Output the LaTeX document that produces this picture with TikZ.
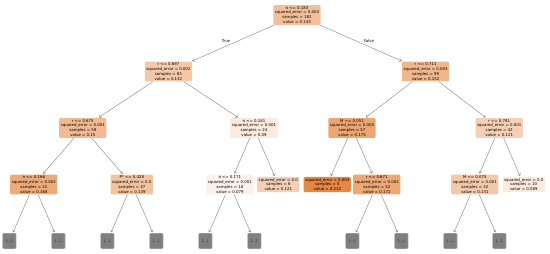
\documentclass[tikz,border=0pt]{standalone}
\usepackage{fontspec}
\newfontfamily\dvs{DejaVu Sans}
\usetikzlibrary{arrows.meta}
\definecolor{sko}{RGB}{229,129,57}
\definecolor{leafgray}{RGB}{128,128,128}
\begin{document}
\begin{tikzpicture}[x=1pt,y=-1pt,
  tn/.style={rectangle, rounded corners=1.2pt, align=center, inner xsep=1.6pt, inner ysep=1.1pt,
    font=\dvs\fontsize{3.9}{4.9}\selectfont, text=black},
  lf/.style={rectangle, rounded corners=1pt, fill=leafgray, draw=black!25, line width=0.4pt,
    minimum width=13.5pt, minimum height=15.5pt, inner sep=0pt,
    font=\dvs\fontsize{3.9}{4.9}\selectfont, text=black!85},
  ed/.style={draw=black!50, line width=0.4pt, -{Straight Barb[length=2pt,width=3pt]}, shorten >=0.8pt},
  lab/.style={font=\dvs\fontsize{3.9}{4.9}\selectfont, text=black}
]
\useasboundingbox (0,0) rectangle (550,254);
\fill[white] (0,0) rectangle (550,254);

% level 0
\node[tn, fill=sko!51!white] (r) at (297,15) {π <= 0.183\\squared\_error = 0.003\\samples = 182\\value = 0.143};
% level 1
\node[tn, fill=sko!44!white] (a) at (168.4,71.5) {r <= 0.697\\squared\_error = 0.002\\samples = 83\\value = 0.132};
\node[tn, fill=sko!57!white] (b) at (425.6,71.5) {r <= 0.711\\squared\_error = 0.003\\samples = 99\\value = 0.152};
% level 2
\node[tn, fill=sko!55!white] (c) at (82.8,128) {r <= 0.675\\squared\_error = 0.001\\samples = 59\\value = 0.15};
\node[tn, fill=sko!17!white] (d) at (254,128) {π <= 0.181\\squared\_error = 0.001\\samples = 24\\value = 0.09};
\node[tn, fill=sko!71!white] (e) at (352,128) {M <= 0.051\\squared\_error = 0.003\\samples = 57\\value = 0.175};
\node[tn, fill=sko!37!white] (f) at (499.2,128) {r <= 0.781\\squared\_error = 0.001\\samples = 42\\value = 0.121};
% level 3
\node[tn, fill=sko!67!white] (g) at (33.8,184.5) {π <= 0.166\\squared\_error = 0.002\\samples = 22\\value = 0.168};
\node[tn, fill=sko!48!white] (h) at (131.8,184.5) {P* <= 0.428\\squared\_error = 0.0\\samples = 37\\value = 0.139};
\node[tn, fill=sko!10!white] (i) at (229.8,184.5) {π <= 0.171\\squared\_error = 0.001\\samples = 18\\value = 0.079};
\node[tn, fill=sko!37!white] (j) at (278.3,184.5) {squared\_error = 0.0\\samples = 6\\value = 0.121};
\node[tn, fill=sko!95!white] (k) at (327.3,184.5) {squared\_error = 0.004\\samples = 5\\value = 0.212};
\node[tn, fill=sko!69!white] (l) at (376.8,184.5) {r <= 0.671\\squared\_error = 0.002\\samples = 52\\value = 0.172};
\node[tn, fill=sko!43!white] (m) at (474.8,184.5) {M <= 0.075\\squared\_error = 0.001\\samples = 32\\value = 0.131};
\node[tn, fill=sko!16!white] (n) at (523.7,184.5) {squared\_error = 0.0\\samples = 10\\value = 0.089};
% truncated leaves
\node[lf] (g1) at (9.3,241) {(...)};
\node[lf] (g2) at (58.3,241) {(...)};
\node[lf] (h1) at (107.3,241) {(...)};
\node[lf] (h2) at (156.3,241) {(...)};
\node[lf] (i1) at (205.3,241) {(...)};
\node[lf] (i2) at (254.3,241) {(...)};
\node[lf] (l1) at (352.3,241) {(...)};
\node[lf] (l2) at (401.3,241) {(...)};
\node[lf] (m1) at (450.3,241) {(...)};
\node[lf] (m2) at (499.3,241) {(...)};

% edges
\foreach \p/\q in {r/a, r/b, a/c, a/d, b/e, b/f, c/g, c/h, d/i, d/j, e/k, e/l, f/m, f/n,
  g/g1, g/g2, h/h1, h/h2, i/i1, i/i2, l/l1, l/l2, m/m1, m/m2}
  \draw[ed] (\p) -- (\q);

\node[lab] (tlab) at (226,41.5) {True};
\node[lab] (flab) at (369,41.5) {False};
\end{tikzpicture}
\end{document}
